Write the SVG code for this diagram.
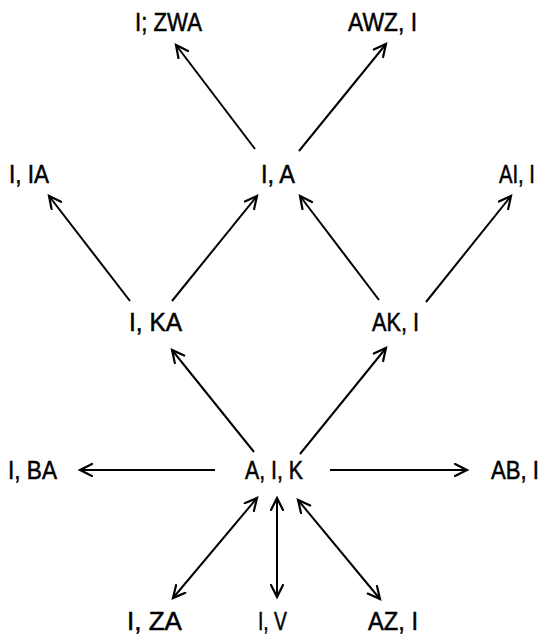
<svg xmlns="http://www.w3.org/2000/svg" width="545" height="636" viewBox="0 0 545 636">
<defs>
<marker id="ah" markerUnits="userSpaceOnUse" markerWidth="16" markerHeight="16" refX="13" refY="7" orient="auto-start-reverse">
<path d="M1,1 L13,7 L1,13" fill="none" stroke="#000" stroke-width="2.2" stroke-linecap="round" stroke-linejoin="miter"/>
</marker>
</defs>
<style>
text{font-family:"Liberation Sans",Arial,sans-serif;font-size:25px;fill:#000;stroke:#000;stroke-width:0.5;text-anchor:middle}
.e{stroke:#000;stroke-width:2;fill:none}
.a{marker-end:url(#ah)}
.b{marker-start:url(#ah);marker-end:url(#ah)}
</style>
<rect width="545" height="636" fill="#fff"/>
<g id="connectors">
<line class="e a" x1="255" y1="149" x2="176" y2="45"/>
<line class="e a" x1="299" y1="151" x2="386" y2="44"/>
<line class="e a" x1="130" y1="301" x2="49" y2="196"/>
<line class="e a" x1="172" y1="301" x2="257" y2="196"/>
<line class="e a" x1="379" y1="300" x2="300" y2="196"/>
<line class="e a" x1="426" y1="302" x2="511" y2="196"/>
<line class="e a" x1="254" y1="452" x2="172" y2="350"/>
<line class="e a" x1="300" y1="454" x2="386" y2="348"/>
<line class="e a" x1="215" y1="470" x2="80" y2="470"/>
<line class="e a" x1="330" y1="470" x2="467" y2="470"/>
<line class="e b" x1="257" y1="498" x2="173" y2="598"/>
<line class="e b" x1="277" y1="498" x2="277" y2="597"/>
<line class="e b" x1="298" y1="500" x2="380" y2="599"/>
</g>
<g id="n-IZWA"><text x="168.5" y="31" textLength="67" lengthAdjust="spacingAndGlyphs">I; ZWA</text></g>
<g id="n-AWZI"><text x="382.5" y="31" textLength="69" lengthAdjust="spacingAndGlyphs">AWZ, I</text></g>
<g id="n-IIA"><text x="29" y="183" textLength="40" lengthAdjust="spacingAndGlyphs">I, IA</text></g>
<g id="n-IA"><text x="278" y="183" textLength="34" lengthAdjust="spacingAndGlyphs">I, A</text></g>
<g id="n-AII"><text x="517" y="183" textLength="36" lengthAdjust="spacingAndGlyphs">AI, I</text></g>
<g id="n-IKA"><text x="155.5" y="331" textLength="53" lengthAdjust="spacingAndGlyphs">I, KA</text></g>
<g id="n-AKI"><text x="395.5" y="331" textLength="47" lengthAdjust="spacingAndGlyphs">AK, I</text></g>
<g id="n-IBA"><text x="32.5" y="479" textLength="49" lengthAdjust="spacingAndGlyphs">I, BA</text></g>
<g id="n-AIK"><text x="274" y="479" textLength="58" lengthAdjust="spacingAndGlyphs">A, I, K</text></g>
<g id="n-ABI"><text x="515" y="479" textLength="48" lengthAdjust="spacingAndGlyphs">AB, I</text></g>
<g id="n-IZA"><text x="154.5" y="630" textLength="55" lengthAdjust="spacingAndGlyphs">I, ZA</text></g>
<g id="n-IV"><text x="272.5" y="630" textLength="29" lengthAdjust="spacingAndGlyphs">I, V</text></g>
<g id="n-AZI"><text x="393" y="630" textLength="50" lengthAdjust="spacingAndGlyphs">AZ, I</text></g>
</svg>
